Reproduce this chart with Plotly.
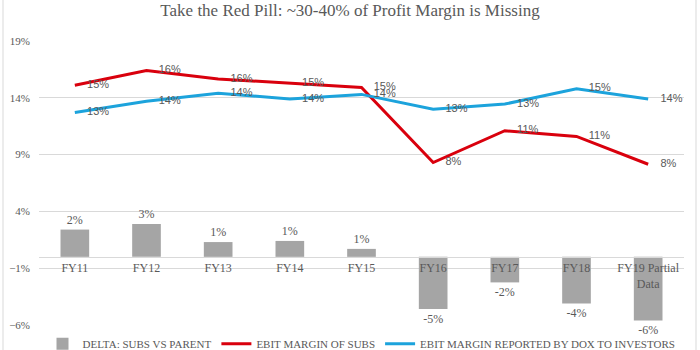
import plotly.graph_objects as go

categories = ["FY11", "FY12", "FY13", "FY14", "FY15", "FY16", "FY17", "FY18", "FY19 Partial<br>Data"]
delta = [0.024, 0.029, 0.013, 0.014, 0.007, -0.046, -0.0225, -0.041, -0.056]
ebit_subs = [0.151, 0.164, 0.1566, 0.153, 0.149, 0.083, 0.111, 0.106, 0.0815]
ebit_dox = [0.127, 0.137, 0.144, 0.139, 0.143, 0.130, 0.1345, 0.148, 0.139]
y_ticks = [-0.06, -0.01, 0.04, 0.09, 0.14, 0.19]

SERIF = "Liberation Serif"
SANS = "Liberation Sans"
GREY_TXT = "#595959"
ymin, ymax = -0.06, 0.19

fig = go.Figure()
fig.add_trace(go.Bar(
    x=categories, y=delta, name="DELTA: SUBS VS PARENT",
    marker=dict(color="#A5A5A5", line=dict(width=0)),
    texttemplate="%{y:.0%}", textposition="outside",
    textfont=dict(family=SERIF, size=12, color=GREY_TXT),
    cliponaxis=False,
))
for name, vals, col in [("EBIT MARGIN OF SUBS", ebit_subs, "#D9000D"),
                        ("EBIT MARGIN REPORTED BY DOX TO INVESTORS", ebit_dox, "#1CA3DC")]:
    fig.add_trace(go.Scatter(
        x=categories, y=vals, name=name, mode="lines",
        line=dict(color=col, width=3),
    ))
for vals in (ebit_subs, ebit_dox):
    fig.add_trace(go.Scatter(
        x=categories, y=vals, mode="markers+text", showlegend=False,
        marker=dict(size=18, opacity=0), hoverinfo="skip",
        texttemplate="%{y:.0%}", textposition="middle right",
        textfont=dict(family=SANS, size=11, color=GREY_TXT),
        cliponaxis=False,
    ))

L, R, T, B = 39, 16, 41, 25
W, H = 700, 350
pw = W - L - R

fig.update_layout(
    width=W, height=H,
    margin=dict(l=L, r=R, t=T, b=B, autoexpand=False),
    paper_bgcolor="white", plot_bgcolor="white",
    bargap=0.6,
    title=dict(text="Take the Red Pill: ~30-40% of Profit Margin is Missing",
               x=0.5, xanchor="center", y=1 - 10 / H, yanchor="middle",
               font=dict(family=SERIF, size=17, color=GREY_TXT)),
    showlegend=True,
    legend=dict(orientation="h", x=0.5, xanchor="center", y=-0.015, yanchor="top",
                font=dict(family=SERIF, size=11, color=GREY_TXT),
                traceorder="normal", itemwidth=30, bgcolor="rgba(0,0,0,0)",
                tracegroupgap=0),
    xaxis=dict(type="category", anchor="free", position=(0 - ymin) / (ymax - ymin),
               range=[-0.5, len(categories) - 0.5],
               showline=True, linecolor="#D9D9D9", linewidth=1, ticks="",
               showgrid=False, tickfont=dict(family=SERIF, size=12, color=GREY_TXT)),
    yaxis=dict(range=[ymin, ymax], tickvals=y_ticks, tickformat=".0%",
               showgrid=True, gridcolor="#D9D9D9", gridwidth=1, zeroline=False,
               showline=False, ticks="", ticklabelstandoff=8,
               tickfont=dict(family=SERIF, size=11, color=GREY_TXT)),
    shapes=[
        dict(type="line", xref="paper", yref="paper",
             x0=(3 - L) / pw, x1=(3 - L) / pw, y0=-1, y1=2,
             line=dict(color="#D9D9D9", width=1)),
        dict(type="line", xref="paper", yref="paper",
             x0=(696 - L) / pw, x1=(696 - L) / pw, y0=-1, y1=2,
             line=dict(color="#D9D9D9", width=1)),
    ],
)

fig.write_html("out.html")
